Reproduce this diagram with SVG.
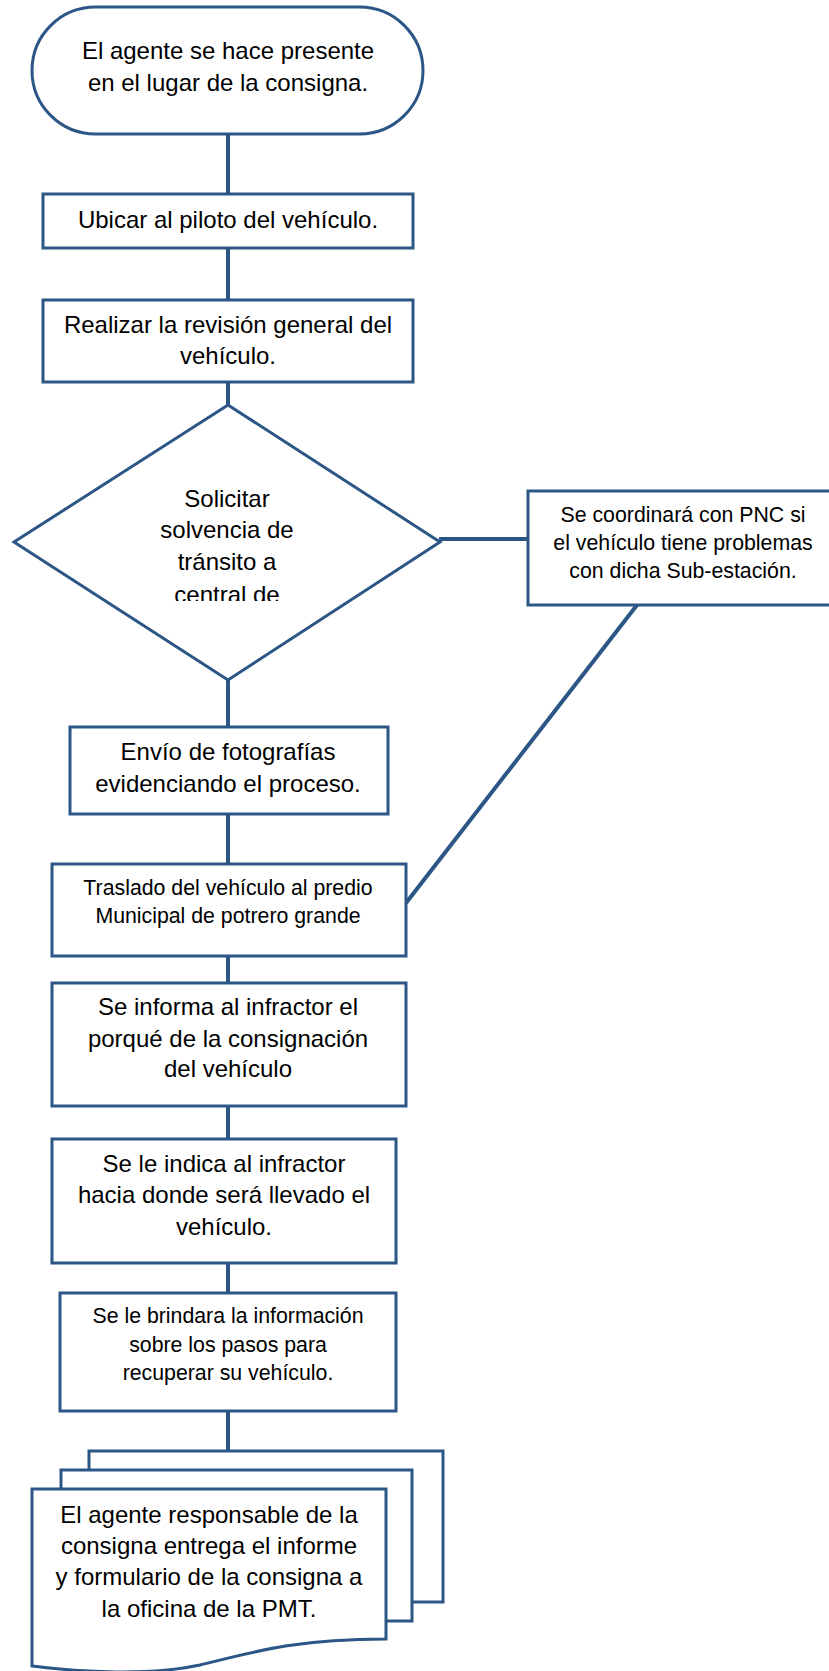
<svg xmlns="http://www.w3.org/2000/svg" width="829" height="1671" viewBox="0 0 829 1671">
<style>
.s{fill:#fff;stroke:#2B5685;stroke-width:3}
.c{stroke:#2B5685;stroke-width:4;fill:none}
.t{font-family:"Liberation Sans",Arial,sans-serif;font-size:24px;fill:#000;text-anchor:middle}
.m{font-size:21.3px}
</style>
<defs>
<clipPath id="dclip"><rect x="0" y="400" width="450" height="201"/></clipPath>
</defs>
<rect width="829" height="1671" fill="#fff"/>
<g id="connectors">
<line class="c" x1="228" y1="134" x2="228" y2="194"/>
<line class="c" x1="228" y1="248" x2="228" y2="300"/>
<line class="c" x1="228" y1="382" x2="228" y2="405"/>
<line class="c" x1="228" y1="680" x2="228" y2="727"/>
<line class="c" x1="228" y1="814" x2="228" y2="864"/>
<line class="c" x1="228" y1="956" x2="228" y2="983"/>
<line class="c" x1="228" y1="1106" x2="228" y2="1139"/>
<line class="c" x1="228" y1="1263" x2="228" y2="1293"/>
<line class="c" x1="228" y1="1411" x2="228" y2="1451"/>
<line class="c" x1="439" y1="539" x2="528" y2="539"/>
<line class="c" x1="637" y1="605" x2="406" y2="903"/>
</g>
<g id="n1">
<rect class="s" x="32" y="7" width="391" height="127" rx="63.5"/>
<text class="t" x="228" y="59">El agente se hace presente</text>
<text class="t" x="228" y="91">en el lugar de la consigna.</text>
</g>
<g id="n2">
<rect class="s" x="43" y="194" width="370" height="54"/>
<text class="t" x="228" y="228">Ubicar al piloto del vehículo.</text>
</g>
<g id="n3">
<rect class="s" x="43" y="300" width="370" height="82"/>
<text class="t" x="228" y="333">Realizar la revisión general del</text>
<text class="t" x="228" y="364">vehículo.</text>
</g>
<g id="n4">
<polygon class="s" points="228,405 440,542 228,680 14,542"/>
<g clip-path="url(#dclip)">
<text class="t" x="227" y="507">Solicitar</text>
<text class="t" x="227" y="538">solvencia de</text>
<text class="t" x="227" y="570">tránsito a</text>
<text class="t" x="227" y="603">central de</text>
</g>
</g>
<g id="n5">
<rect class="s" x="528" y="491" width="310" height="114"/>
<text class="t m" x="683" y="522">Se coordinará con PNC si</text>
<text class="t m" x="683" y="550">el vehículo tiene problemas</text>
<text class="t m" x="683" y="578">con dicha Sub-estación.</text>
</g>
<g id="n6">
<rect class="s" x="70" y="727" width="318" height="87"/>
<text class="t" x="228" y="760">Envío de fotografías</text>
<text class="t" x="228" y="792">evidenciando el proceso.</text>
</g>
<g id="n7">
<rect class="s" x="52" y="864" width="354" height="92"/>
<text class="t m" x="228" y="895">Traslado del vehículo al predio</text>
<text class="t m" x="228" y="923">Municipal de potrero grande</text>
</g>
<g id="n8">
<rect class="s" x="52" y="983" width="354" height="123"/>
<text class="t" x="228" y="1015">Se informa al infractor el</text>
<text class="t" x="228" y="1047">porqué de la consignación</text>
<text class="t" x="228" y="1077">del vehículo</text>
</g>
<g id="n9">
<rect class="s" x="52" y="1139" width="344" height="124"/>
<text class="t" x="224" y="1172">Se le indica al infractor</text>
<text class="t" x="224" y="1203">hacia donde será llevado el</text>
<text class="t" x="224" y="1235">vehículo.</text>
</g>
<g id="n10">
<rect class="s" x="60" y="1293" width="336" height="118"/>
<text class="t m" x="228" y="1323">Se le brindara la información</text>
<text class="t m" x="228" y="1352">sobre los pasos para</text>
<text class="t m" x="228" y="1380">recuperar su vehículo.</text>
</g>
<g id="n11">
<rect class="s" x="89" y="1451" width="354" height="151"/>
<rect class="s" x="61" y="1470" width="351" height="151"/>
<path class="s" d="M32,1489 H386 V1639 C300,1639 260,1650 200,1665 C150,1676 80,1672 32,1666 Z"/>
<text class="t" x="209" y="1523">El agente responsable de la</text>
<text class="t" x="209" y="1554">consigna entrega el informe</text>
<text class="t" x="209" y="1585">y formulario de la consigna a</text>
<text class="t" x="209" y="1617">la oficina de la PMT.</text>
</g>
</svg>
